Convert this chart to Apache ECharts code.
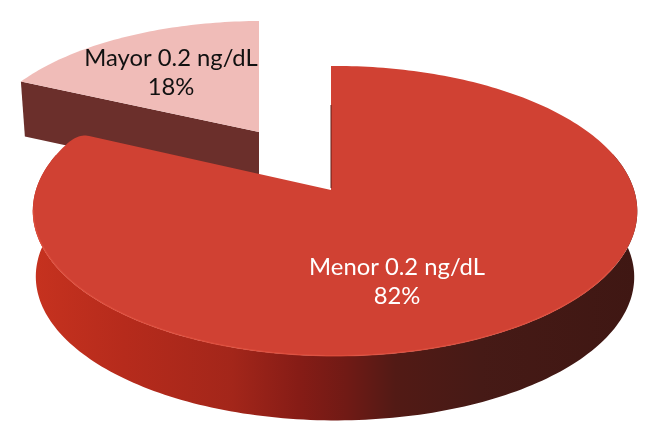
<!DOCTYPE html>
<html><head><meta charset="utf-8">
<style>html,body{margin:0;padding:0;background:#fff}#c{width:649px;height:422px}</style>
<script src="https://cdn.jsdelivr.net/npm/echarts@6/dist/echarts.min.js"></script>
</head><body><div id="c"></div>
<script>
const categories = ['Menor 0.2 ng/dL', 'Mayor 0.2 ng/dL'];
const percentages = [82, 18];
const topColors = ['#d04133', '#f0bcb8'];
const labelColors = ['#ffffff', '#111111'];

const total = percentages.reduce((a, b) => a + b, 0);
const P = 0.1448, Q = 0.01325, A = 299, B = 142;
function project(theta, ax, ay, sx, sy) {
  const u = Math.sin(theta), v = -Math.cos(theta);
  const d = 1 - P * v - Q * u;
  return [ax + sx * A * u / d, ay + (sy === undefined ? sx : sy) * B * v / d];
}
function arc(t0, t1, ax, ay, sx, sy) {
  const n = Math.max(2, Math.ceil(Math.abs(t1 - t0) / 0.02)), pts = [];
  for (let i = 0; i <= n; i++) pts.push(project(t0 + (t1 - t0) * i / n, ax, ay, sx, sy));
  return pts;
}
function roundedCorner(p0, c, p1) {
  const pts = [];
  for (let i = 1; i < 12; i++) {
    const t = i / 12, m = 1 - t;
    pts.push([m * m * p0[0] + 2 * m * t * c[0] + t * t * p1[0], m * m * p0[1] + 2 * m * t * c[1] + t * t * p1[1]]);
  }
  return pts;
}
const rad = d => d * Math.PI / 180;
const sideGradient = {
  type: 'linear', x: 0, y: 0, x2: 1, y2: 0,
  colorStops: [
    { offset: 0, color: '#c6321f' }, { offset: 0.15, color: '#b62b1c' },
    { offset: 0.33, color: '#a3261a' }, { offset: 0.44, color: '#861c16' },
    { offset: 0.52, color: '#701a15' }, { offset: 0.6, color: '#521a15' },
    { offset: 0.74, color: '#461a16' }, { offset: 1, color: '#3f1713' }
  ]
};
function renderItem(params, api) {
  const i = params.dataIndex;
  const value = api.value(0);
  let before = 0;
  for (let k = 0; k < i; k++) before += percentages[k];
  const t0 = before / total * 2 * Math.PI, t1 = (before + value) / total * 2 * Math.PI;
  const children = [];
  const label = (x, y) => ({
    type: 'text', z2: 20,
    style: { x, y, text: categories[i] + '\n' + value + '%', fill: labelColors[i],
      font: '23.8px Lato', lineHeight: 29, align: 'center', verticalAlign: 'middle' }
  });
  if (i === 0) {
    const ax = 331, ay = 190, depth = 66, sb = 0.99;
    const frontStart = rad(75), frontEnd = Math.min(t1, rad(285));
    const topArc = arc(frontStart, frontEnd, ax, ay, 1);
    const botArc = arc(frontEnd, frontStart, ax, ay + depth, sb);
    children.push({ type: 'polygon', z2: 5, shape: { points: topArc.concat(botArc) },
      style: { fill: sideGradient } });
    const body = arc(t0, t1 - 0.08, ax, ay, 1);
    const corner = project(t1, ax, ay, 1);
    const along = [corner[0] + (ax - corner[0]) * 0.04, corner[1] + (ay - corner[1]) * 0.04];
    const top = [[ax, ay]].concat(body, roundedCorner(body[body.length - 1], corner, along), [along]);
    children.push({ type: 'polygon', z2: 6, shape: { points: top },
      style: { fill: topColors[i] } });
    children.push({ type: 'polyline', z2: 7, shape: { points: arc(rad(120), rad(262), ax, ay, 0.998) },
      style: { fill: 'none', stroke: '#e0503f', lineWidth: 1.5, opacity: 0.75 } });
    children.push({ type: 'line', z2: 7, shape: { x1: ax, y1: 105, x2: ax, y2: ay - 2 },
      style: { stroke: '#5a1a15', lineWidth: 1.2, opacity: 0.8 } });
    children.push(label(397, 282));
  } else {
    const ax = 259, ay = 132, sx = 0.945, sy = 0.895, depth = 55;
    const end = project(t0, ax, ay, sx, sy);
    children.push({ type: 'polygon', z2: 1, shape: { points: [
      [ax, ay], end, [end[0] + 4, end[1] + depth], [ax, ay + depth]] },
      style: { fill: '#6b2f2b' } });
    children.push({ type: 'polygon', z2: 2, shape: { points: [[ax, ay]].concat(arc(t0, t1, ax, ay, sx, sy)) },
      style: { fill: topColors[i] } });
    children.push(label(171, 73));
  }
  return { type: 'group', children };
}
const chart = echarts.init(document.getElementById('c'), null, { renderer: 'canvas' });
chart.setOption({
  animation: false,
  backgroundColor: '#ffffff',
  series: [{
    type: 'custom', coordinateSystem: 'none', renderItem,
    data: percentages.map(v => [v])
  }]
});
</script></body></html>
